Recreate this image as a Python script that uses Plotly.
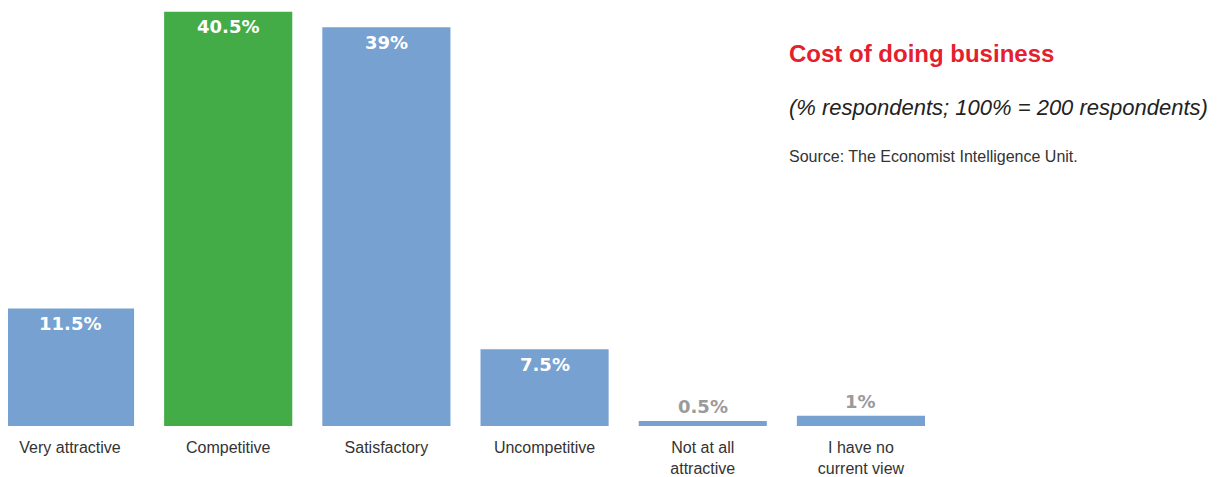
import plotly.graph_objects as go

categories = ["Very attractive", "Competitive", "Satisfactory", "Uncompetitive",
              "Not at all<br>attractive", "I have no<br>current view"]
values = [11.5, 40.5, 39, 7.5, 0.5, 1]
value_labels = ["11.5%", "40.5%", "39%", "7.5%", "0.5%", "1%"]
bar_colors = ["#77A1D0", "#43AC46", "#77A1D0", "#77A1D0", "#77A1D0", "#77A1D0"]
label_inside = [True, True, True, True, False, False]

x_idx = list(range(len(categories)))

fig = go.Figure()
fig.add_trace(go.Bar(
    x=x_idx, y=values, width=0.81,
    marker=dict(color=bar_colors, line=dict(width=0)),
    cliponaxis=False, hoverinfo="skip",
))

annotations = []
for xi, v, lab, inside in zip(x_idx, values, value_labels, label_inside):
    annotations.append(dict(
        x=xi, y=v, xref="x", yref="y", text=lab, showarrow=False,
        xanchor="center", yanchor="middle", yshift=-15 if inside else 14,
        font=dict(family="DejaVu Sans", size=18, weight="bold",
                  color="#FFFFFF" if inside else "#9A9A9A"),
    ))

PLOT_H = 421
annotations += [
    dict(xref="paper", yref="paper", x=779/1216, y=1-46/PLOT_H, xanchor="left", yanchor="middle",
         text="<b>Cost of doing business</b>", showarrow=False,
         font=dict(family="Liberation Sans, Arial", size=24, color="#E5202E")),
    dict(xref="paper", yref="paper", x=779/1216, y=1-100/PLOT_H, xanchor="left", yanchor="middle",
         text="<i>(% respondents; 100% = 200 respondents)</i>", showarrow=False,
         font=dict(family="Liberation Sans, Arial", size=22, color="#222222")),
    dict(xref="paper", yref="paper", x=779/1216, y=1-150/PLOT_H, xanchor="left", yanchor="middle",
         text="Source: The Economist Intelligence Unit.", showarrow=False,
         font=dict(family="Liberation Sans, Arial", size=16, color="#333333")),
]

fig.update_layout(
    width=1216, height=469,
    margin=dict(l=0, r=0, t=0, b=48),
    paper_bgcolor="white", plot_bgcolor="white",
    showlegend=False,
    xaxis=dict(range=[-0.392, 7.295], tickmode="array", tickvals=x_idx, ticktext=categories,
               showgrid=False, zeroline=False, showline=False, ticks="",
               ticklabelstandoff=10,
               tickfont=dict(family="Liberation Sans, Arial", size=16, color="#333333")),
    yaxis=dict(range=[0, PLOT_H/10.3], visible=False, showgrid=False, zeroline=False),
    annotations=annotations,
)

fig.write_html("out.html")
